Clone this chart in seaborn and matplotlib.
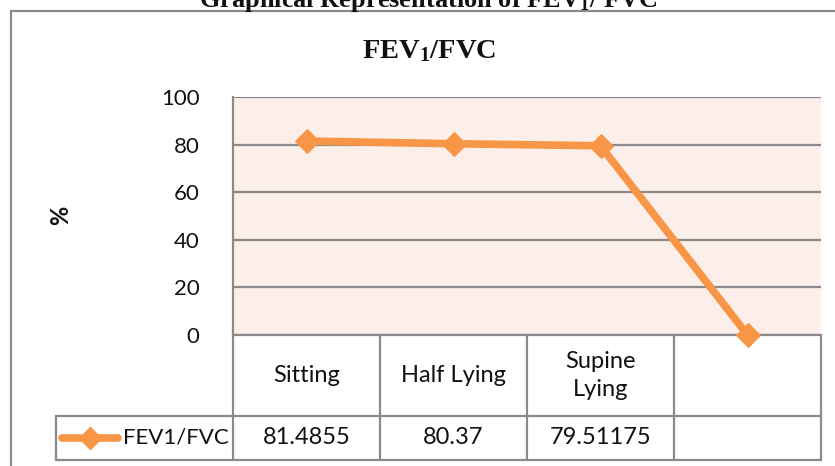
import matplotlib
matplotlib.use("Agg")
import matplotlib.pyplot as plt
import seaborn as sns
import pandas as pd
from matplotlib.lines import Line2D
from matplotlib.patches import Rectangle

# ---- data ----
categories = ["Sitting", "Half Lying", "Supine\nLying", ""]
values = [81.4855, 80.37, 79.51175, 0]
value_labels = ["81.4855", "80.37", "79.51175", ""]
series_name = "FEV1/FVC"
y_ticks = [0, 20, 40, 60, 80, 100]

ORANGE = "#F79646"
BG = "#FCEEE8"
GRID = "#8A8A8A"

sns.set_theme(style="white")
plt.rcParams["font.family"] = ["Lato", "DejaVu Sans"]
plt.rcParams["mathtext.fontset"] = "custom"
plt.rcParams["mathtext.rm"] = "Liberation Serif:bold"
plt.rcParams["mathtext.bf"] = "Liberation Serif:bold"
plt.rcParams["mathtext.it"] = "Liberation Serif:bold"

W, H = 835, 466
fig = plt.figure(figsize=(W / 100, H / 100), dpi=100)

def fx(px):
    return px / W

def fy(py):
    return 1 - py / H

L, R, T, B = 233, 821, 97, 335
ax = fig.add_axes([fx(L), fy(B), fx(R - L), (B - T) / H])
ax.set_facecolor(BG)

df = pd.DataFrame({"pos": list(range(len(categories))), "val": values})
sns.lineplot(data=df, x="pos", y="val", ax=ax, color=ORANGE, linewidth=5.5,
             marker="D", markersize=12, markeredgecolor=ORANGE,
             markerfacecolor=ORANGE, zorder=5, clip_on=False)

ax.set_xlim(-0.5, len(categories) - 0.5)
ax.set_ylim(0, 100)
ax.set_yticks(y_ticks)
ax.set_yticklabels([str(t) for t in y_ticks], fontsize=16, color="#111111")
ax.tick_params(axis="y", length=0, pad=24)
ax.set_xticks([])
ax.set_xlabel("")
ax.set_ylabel("")
ax.yaxis.grid(True, color=GRID, linewidth=1.6)
ax.set_axisbelow(True)
for s in ["top", "right", "bottom"]:
    ax.spines[s].set_visible(False)
ax.spines["left"].set_color(GRID)
ax.spines["left"].set_linewidth(1.6)

# y-axis label
fig.text(fx(61), fy(215), "%", rotation=90, ha="center", va="center",
         fontsize=17, fontweight="bold", color="#111111")

# titles
fig.text(fx(428), fy(7), r"Graphical Representation of FEV$_1$/ FVC",
         ha="center", va="baseline", fontsize=19, fontweight="bold",
         family="Liberation Serif", color="#111111")
fig.text(fx(429), fy(58), r"FEV$_1$/FVC", ha="center", va="baseline",
         fontsize=20.5, fontweight="bold", family="Liberation Serif",
         color="#111111")

# outer chart border
fig.add_artist(Rectangle((fx(11), fy(490)), fx(840), (490 - 11) / H,
                         fill=False, edgecolor=GRID, linewidth=1.6,
                         transform=fig.transFigure, clip_on=False))

# ---- data table ----
tr = ax.get_xaxis_transform()
ah = B - T
def ayf(py):
    return -(py - B) / ah

row1_bot, row2_bot = 416, 460
n = len(categories)
legend_left = -0.5 - (L - 56) / ((R - L) / n)
lk = dict(color=GRID, linewidth=1.6, transform=tr, clip_on=False)
# horizontal lines
ax.add_line(Line2D([-0.5, n - 0.5], [0, 0], **lk))
ax.add_line(Line2D([legend_left, n - 0.5], [ayf(row1_bot)] * 2, **lk))
ax.add_line(Line2D([legend_left, n - 0.5], [ayf(row2_bot)] * 2, **lk))
# vertical lines
for i in range(n + 1):
    ax.add_line(Line2D([i - 0.5, i - 0.5], [0, ayf(row2_bot)], **lk))
ax.add_line(Line2D([legend_left] * 2, [ayf(row1_bot), ayf(row2_bot)], **lk))

for i, (c, v) in enumerate(zip(categories, value_labels)):
    ax.text(i, ayf((B + row1_bot) / 2), c, transform=tr, ha="center",
            va="center", fontsize=17, color="#111111", linespacing=1.4)
    ax.text(i, ayf((row1_bot + row2_bot) / 2), v, transform=tr, ha="center",
            va="center", fontsize=17, color="#111111")

# legend key in table
ymid = fy((row1_bot + row2_bot) / 2)
fig.add_artist(Line2D([fx(62), fx(118)], [ymid, ymid], color=ORANGE,
                      linewidth=5.5, transform=fig.transFigure))
fig.add_artist(Line2D([fx(90)], [ymid], color=ORANGE, marker="D",
                      markersize=11, linestyle="none",
                      transform=fig.transFigure))
fig.text(fx(123), ymid, series_name, ha="left", va="center", fontsize=16,
         color="#111111")

fig.savefig("out.png", dpi=100)
